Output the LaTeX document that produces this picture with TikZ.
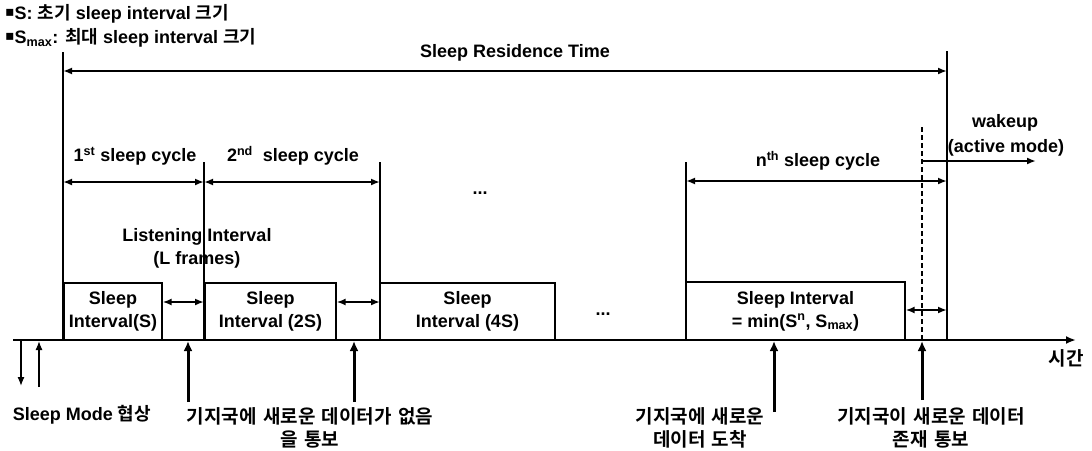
\documentclass[tikz,border=0pt]{standalone}
\usepackage{fontspec}
\setmainfont{Liberation Sans}
\newfontfamily\kr{Noto Sans CJK KR}[BoldFont={* Bold},WordSpace=1.5]
\newfontfamily\dv{DejaVu Sans}
\usetikzlibrary{arrows.meta}
\newcommand{\lf}{\fontsize{18}{23}\selectfont\bfseries}
\newcommand{\kf}{\fontsize{19}{23}\selectfont\kr\bfseries}
\begin{document}
\begin{tikzpicture}[x=1pt,y=-1pt,
  lbl/.style={font=\lf, inner sep=0pt, align=center},
  klbl/.style={font=\kf, inner sep=0pt, align=center},
  vline/.style={line width=1.2pt},
  dimarrow/.style={line width=1.8pt, {Latex[length=9pt,width=7pt]}-{Latex[length=9pt,width=7pt]}},
  onearrow/.style={line width=1.8pt, -{Latex[length=9pt,width=7pt]}},
  thinarrow/.style={line width=1.3pt, -{Latex[length=9pt,width=7pt]}},
  thickarrow/.style={line width=3pt, -{Latex[length=10pt,width=9pt]}},
  sbox/.style={draw, line width=1.2pt, inner sep=0pt, font=\lf, align=center}]
\useasboundingbox (0,0) rectangle (1092,450);
\fill[white] (0,0) rectangle (1092,450);

% legend
\node[lbl, anchor=west] (leg1) at (5,14) {{\dv\raisebox{0.3ex}{\fontsize{14}{14}\selectfont\char"25AA}}S: {\kr 초기} sleep interval {\kr 크기}};
\node[lbl, anchor=west] (leg2) at (5,38) {{\dv\raisebox{0.3ex}{\fontsize{14}{14}\selectfont\char"25AA}}S\textsubscript{max}: {\kr 최대} sleep interval {\kr 크기}};

% coordinates of the vertical lines
\coordinate (L0t) at (63,52);  \coordinate (L0b) at (63,340);
\coordinate (L1t) at (204,162); \coordinate (L1b) at (204,340);
\coordinate (L2t) at (380,162); \coordinate (L2b) at (380,340);
\coordinate (L3t) at (686,162); \coordinate (L3b) at (686,340);
\coordinate (L4t) at (947,51);  \coordinate (L4b) at (947,340);
\coordinate (Dt) at (922,127);  \coordinate (Db) at (922,340);

\draw[vline] (L0t) -- (L0b);
\draw[vline] (L1t) -- (L1b);
\draw[vline] (L2t) -- (L2b);
\draw[vline] (L3t) -- (L3b);
\draw[vline] (L4t) -- (L4b);
\draw[line width=1.1pt, dash pattern=on 5pt off 3pt] (Dt) -- (Db);

% time axis
\coordinate (ax0) at (13,340); \coordinate (ax1) at (1076,340);
\draw[line width=2pt, -{Latex[length=10pt,width=8pt]}] (ax0) -- (ax1);
\node[klbl] (time) at (1066,358) {시간};

% sleep residence time
\coordinate (sr0) at (63,71); \coordinate (sr1) at (947,71);
\draw[dimarrow] (sr0) -- (sr1);
\node[lbl] (srt) at (515,53) {Sleep Residence Time};

% cycle arrows
\coordinate (c1a) at (63,182); \coordinate (c1b) at (204,182);
\coordinate (c2b) at (380,182);
\coordinate (cna) at (686,181); \coordinate (cnb) at (947,181);
\draw[dimarrow] (c1a) -- (c1b);
\draw[dimarrow] (c1b) -- (c2b);
\draw[dimarrow] (cna) -- (cnb);
\node[lbl] (cyc1) at (135,156) {1\textsuperscript{st} sleep cycle};
\node[lbl] (cyc2) at (293,156) {2\textsuperscript{nd}\ \ sleep cycle};
\node[lbl] (cycn) at (818,161) {n\textsuperscript{th} sleep cycle};
\node[lbl] (dots1) at (480,193) {...};

% wakeup
\coordinate (wk0) at (922,161); \coordinate (wk1) at (1036,161);
\draw[onearrow] (wk0) -- (wk1);
\node[lbl] (wake) at (1005,123) {wakeup};
\node[lbl] (act) at (1006,148) {(active mode)};

% listening interval label
\node[lbl] (listen) at (197,248) {Listening Interval\\(L frames)};

% sleep interval boxes
\node[sbox, minimum width=98pt, minimum height=57pt] (b1) at (113,311.5) {Sleep\\Interval(S)};
\node[sbox, minimum width=131pt, minimum height=57pt] (b2) at (270.5,311.5) {Sleep\\Interval (2S)};
\node[sbox, minimum width=175pt, minimum height=57pt] (b3) at (467.5,311.5) {Sleep\\Interval (4S)};
\node[sbox, minimum width=219pt, minimum height=58pt] (b4) at (795.5,311) {Sleep Interval\\= min(S\textsuperscript{n}, S\textsubscript{max})};
\node[lbl] (dots2) at (603,314) {...};

% listening interval arrows
\coordinate (li1) at (204,302); \coordinate (li2) at (380,302); \coordinate (li3) at (947,310);
\draw[dimarrow] (b1.east |- li1) -- (li1);
\draw[dimarrow] (b2.east |- li2) -- (li2);
\draw[dimarrow] (b4.east |- li3) -- (li3);

% negotiation arrows
\coordinate (n1a) at (21,341); \coordinate (n1b) at (21,386);
\coordinate (n2a) at (39,387); \coordinate (n2b) at (39,341);
\draw[thinarrow] (n1a) -- (n1b);
\draw[thinarrow] (n2a) -- (n2b);
\node[lbl] (neg) at (82,415) {Sleep Mode {\kr 협상}};

% event arrows
\coordinate (e1a) at (188,402); \coordinate (e1b) at (188,341);
\coordinate (e2a) at (354,402); \coordinate (e2b) at (354,341);
\coordinate (e3a) at (774,412); \coordinate (e3b) at (774,341);
\coordinate (e4a) at (922,400); \coordinate (e4b) at (922,341);
\draw[thickarrow] (e1a) -- (e1b);
\draw[thickarrow] (e2a) -- (e2b);
\draw[thickarrow] (e3a) -- (e3b);
\draw[thickarrow] (e4a) -- (e4b);

\node[klbl] (ev1) at (310,428) {기지국에 새로운 데이터가 없음\\을 통보};
\node[klbl] (ev2) at (700,428) {기지국에 새로운\\데이터 도착};
\node[klbl] (ev3) at (931,428) {기지국이 새로운 데이터\\존재 통보};
\end{tikzpicture}
\end{document}
